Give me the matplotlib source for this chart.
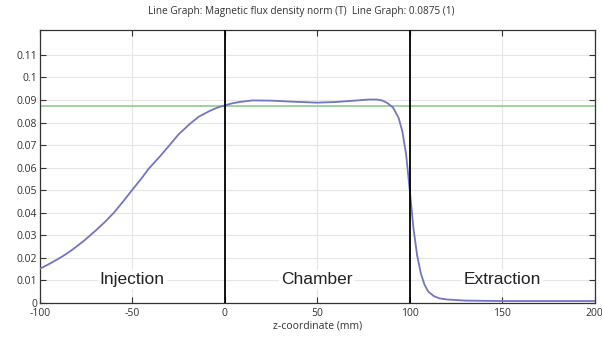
import numpy as np
import matplotlib
matplotlib.use('Agg')
from matplotlib import pyplot as plt

#! Data
z = [-100, -95, -90, -86, -82, -76, -70, -65, -60, -55, -50, -45, -41, -35,
     -30, -25, -19, -14, -8, -4, 0, 4, 8, 15, 25, 35, 50, 60, 70, 78, 82, 85,
     88, 91, 94, 96, 98, 100, 102, 104, 106, 108, 110, 113, 116, 120, 130,
     150, 200]
B = [0.0151, 0.0172, 0.0195, 0.0215, 0.0238, 0.0276, 0.0319, 0.0357, 0.0399,
     0.0449, 0.0501, 0.0552, 0.0596, 0.0650, 0.0698, 0.0747, 0.0793, 0.0826,
     0.0852, 0.0866, 0.0876, 0.0885, 0.0891, 0.0898, 0.0897, 0.0893, 0.0888,
     0.0891, 0.0897, 0.0902, 0.0902, 0.0898, 0.0886, 0.0866, 0.0820, 0.0760,
     0.0660, 0.0500, 0.0330, 0.0210, 0.0130, 0.0080, 0.0050, 0.0030, 0.0020,
     0.0015, 0.0010, 0.0008, 0.0008]
ref_level = 0.0875
borders = [0, 100]
regions = ['Injection', 'Chamber', 'Extraction']
region_x = [-50, 50, 150]
xticks = [-100, -50, 0, 50, 100, 150, 200]
xlabels = ['-100', '-50', '0', '50', '100', '150', '200']
yticks = [0, 0.01, 0.02, 0.03, 0.04, 0.05, 0.06, 0.07, 0.08, 0.09, 0.1, 0.11]
ylabels = ['0', '0.01', '0.02', '0.03', '0.04', '0.05', '0.06', '0.07',
           '0.08', '0.09', '0.1', '0.11']

plt.rcParams['font.family'] = ['Open Sans', 'DejaVu Sans']

fig = plt.figure(figsize=(6.02, 3.38), dpi=100)
ax = fig.add_axes([0.066, 0.104, 0.922, 0.807])

ax.plot(z, B, color='#7474c0', lw=1.3, zorder=3)
ax.axhline(ref_level, color='#8ccc8c', lw=1.2, zorder=2)
for b in borders:
    ax.axvline(b, color='black', lw=1.3, zorder=4)

for name, xr in zip(regions, region_x):
    ax.text(xr, 0.0103, name, ha='center', va='center', fontsize=12.5,
            family='Liberation Sans', color='#222222', zorder=5,
            bbox=dict(facecolor='white', edgecolor='none', pad=1.5))

ax.set_xlim(-100, 200)
ax.set_ylim(0, 0.121)
ax.set_xticks(xticks)
ax.set_xticklabels(xlabels)
ax.set_yticks(yticks)
ax.set_yticklabels(ylabels)
ax.grid(True, color='#e6e6e6', lw=0.8, zorder=0)
ax.set_axisbelow(True)
ax.tick_params(direction='in', length=4, width=0.8, labelsize=7.5,
               top=True, right=True, colors='#333333', pad=2)
ax.tick_params(axis='x', pad=4)
for s in ax.spines.values():
    s.set_color('#333333')
    s.set_linewidth(0.9)

ax.set_xlabel('z-coordinate (mm)', fontsize=7.5, color='#333333', labelpad=1)
fig.text(0.5, 0.965, 'Line Graph: Magnetic flux density norm (T)  Line Graph: 0.0875 (1)',
         ha='center', va='center', fontsize=7.2, color='#333333')

fig.savefig('out.png', dpi=100)
